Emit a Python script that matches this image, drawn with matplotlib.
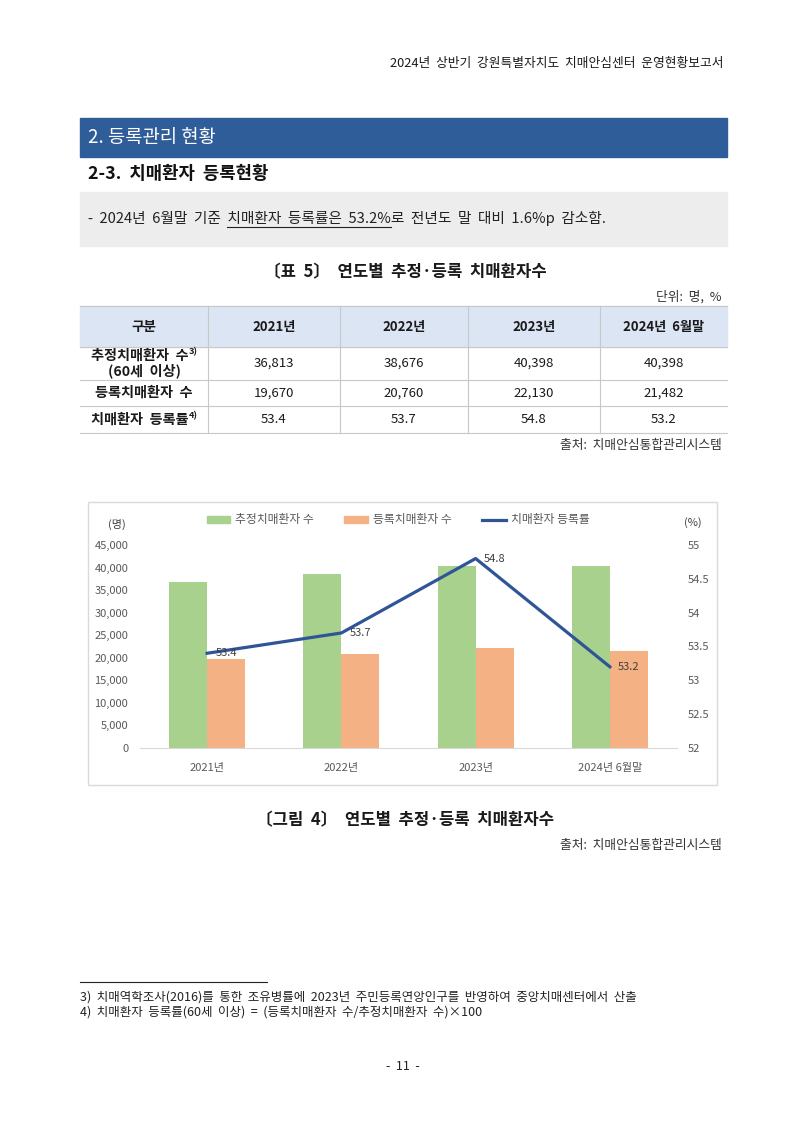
import matplotlib
matplotlib.use('Agg')
import matplotlib.pyplot as plt
from matplotlib.patches import Rectangle, Patch
from matplotlib.lines import Line2D
import numpy as np

plt.rcParams['font.family'] = ['Noto Sans CJK KR', 'DejaVu Sans']

# data
years = ['2021년', '2022년', '2023년', '2024년 6월말']
estimated = [36813, 38676, 40398, 40398]
registered = [19670, 20760, 22130, 21482]
reg_rate = [53.4, 53.7, 54.8, 53.2]
series_names = ['추정치매환자 수', '등록치매환자 수', '치매환자 등록률']
left_ticks = list(range(0, 45001, 5000))
right_ticks = [52, 52.5, 53, 53.5, 54, 54.5, 55]

W, H = 800, 1131
fig = plt.figure(figsize=(8, 11.31), dpi=100)
page = fig.add_axes([0, 0, 1, 1])
page.set_xlim(0, W)
page.set_ylim(H, 0)
page.axis('off')
renderer = fig.canvas.get_renderer()


def sp(s):
    # hangul documents use wider word spacing
    return s.replace(' ', '  ')


def txt(x, y, s, size, ha='left', weight='normal', color='#1a1a1a'):
    return page.text(x, y, s, fontsize=size, ha=ha, va='center',
                     fontweight=weight, color=color)


def width_of(s, size, weight='normal'):
    t = page.text(0, 0, s, fontsize=size, fontweight=weight)
    w = t.get_window_extent(renderer).width
    t.remove()
    return w


def label_with_sup(xc, y, main, sup, size):
    # bold label + small superscript, centred on xc
    w1 = width_of(main, size, 'bold')
    w2 = width_of(sup, size * 0.65, 'bold')
    x0 = xc - (w1 + w2) / 2
    txt(x0, y, main, size, weight='bold')
    page.text(x0 + w1 + 0.5, y - 4, sup, fontsize=size * 0.65, ha='left',
              va='center', fontweight='bold', color='#1a1a1a')


# page header
txt(723, 63, sp('2024년 상반기 강원특별자치도 치매안심센터 운영현황보고서'), 9.2, ha='right')

# section bar
page.add_patch(Rectangle((80, 118), 647, 39, color='#2F5D99'))
txt(88, 137, '2. 등록관리 현황', 13.5, color='white')
txt(88, 174, sp('2-3. 치매환자 등록현황'), 12.8, weight='bold', color='#111111')

# summary box
page.add_patch(Rectangle((80, 192), 647, 54, color='#EDEDED'))
prefix = sp('- 2024년 6월말 기준 ')
under = sp('치매환자 등록률은 53.2%')
rest = sp('로 전년도 말 대비 1.6%p 감소함.')
txt(88, 218, prefix + under + rest, 10.6, color='#222222')
u_end = 88 + width_of(prefix + under, 10.6)
u_start = u_end - width_of(under, 10.6)
page.plot([u_start, u_end], [227, 227], color='#222222', lw=0.8)

# table
txt(405, 272, sp('〔표 5〕 연도별 추정·등록 치매환자수'), 12, ha='center', weight='bold')
txt(722, 297, sp('단위: 명, %'), 9.2, ha='right', color='#333333')
col_edges = [80, 208, 340, 468, 600, 727]
row_edges = [306, 347, 380, 406, 433]
page.add_patch(Rectangle((80, 306), 647, 41, color='#DCE5F4'))
for y in row_edges:
    page.plot([80, 727], [y, y], color='#C8C8C8', lw=0.8)
for x in col_edges[1:-1]:
    page.plot([x, x], [306, 433], color='#C8C8C8', lw=0.8)
col_c = [(col_edges[i] + col_edges[i + 1]) / 2 for i in range(5)]
row_c = [(row_edges[i] + row_edges[i + 1]) / 2 for i in range(4)]

txt(col_c[0], row_c[0], '구분', 9.8, ha='center', weight='bold')
for i, yr in enumerate(years):
    txt(col_c[i + 1], row_c[0], sp(yr), 9.5, ha='center', weight='bold')
label_with_sup(col_c[0], 356, sp('추정치매환자 수'), '3)', 10.2)
txt(col_c[0], 371, sp('(60세 이상)'), 10.2, ha='center', weight='bold')
txt(col_c[0], row_c[2], sp('등록치매환자 수'), 10.2, ha='center', weight='bold')
label_with_sup(col_c[0], row_c[3], sp('치매환자 등록률'), '4)', 10.2)
for i in range(4):
    txt(col_c[i + 1], row_c[1], f'{estimated[i]:,}', 9.5, ha='center')
    txt(col_c[i + 1], row_c[2], f'{registered[i]:,}', 9.5, ha='center')
    txt(col_c[i + 1], row_c[3], f'{reg_rate[i]}', 9.5, ha='center')
txt(722, 446, sp('출처: 치매안심통합관리시스템'), 9.2, ha='right', color='#333333')

# chart frame
page.add_patch(Rectangle((88, 502), 629, 283, fill=False, edgecolor='#D9D9D9', lw=1))
txt(117, 524, '(명)', 8, ha='center', color='#404040')
txt(693, 523, '(%)', 8, ha='center', color='#404040')


def frac(x0, y0, x1, y1):
    return [x0 / W, 1 - y1 / H, (x1 - x0) / W, (y1 - y0) / H]


ax = fig.add_axes(frac(140, 545, 677, 748))
ax.patch.set_alpha(0)
x = np.arange(len(years))
bw = 0.283
ax.bar(x - bw / 2, estimated, bw, color='#A9D18E')
ax.bar(x + bw / 2, registered, bw, color='#F4B183')
ax.set_xlim(-0.5, 3.5)
ax.set_ylim(0, 45000)
ax.set_yticks(left_ticks)
ax.set_yticklabels([f'{v:,}' for v in left_ticks])
ax.set_xticks(x)
ax.set_xticklabels(years)
for s in ['top', 'left', 'right']:
    ax.spines[s].set_visible(False)
ax.spines['bottom'].set_color('#D9D9D9')
ax.tick_params(axis='y', length=0, pad=8.5, labelsize=8, labelcolor='#595959')
ax.tick_params(axis='x', length=0, pad=10.5, labelsize=8, labelcolor='#595959')

ax2 = ax.twinx()
ax2.plot(x, reg_rate, color='#2F5597', lw=2.3)
ax2.set_ylim(52, 55)
ax2.set_yticks(right_ticks)
ax2.set_yticklabels([f'{v:g}' for v in right_ticks])
for s in ['top', 'left', 'right', 'bottom']:
    ax2.spines[s].set_visible(False)
ax2.tick_params(axis='y', length=0, pad=8, labelsize=8, labelcolor='#595959')
for xi, v in zip(x, reg_rate):
    ax2.annotate(f'{v}', (xi, v), xytext=(6, 0), textcoords='offset points',
                 ha='left', va='center', fontsize=8, color='#404040')

handles = [Patch(color='#A9D18E'), Patch(color='#F4B183'),
           Line2D([], [], color='#2F5597', lw=2.3)]
fig.legend(handles, series_names, loc='center', bbox_to_anchor=(398 / W, 1 - 520 / H),
           ncol=3, frameon=False, fontsize=8.5, labelcolor='#595959',
           handlelength=2.0, handleheight=0.6, handletextpad=0.4, columnspacing=2.6)

# figure caption
txt(405, 820, sp('〔그림 4〕 연도별 추정·등록 치매환자수'), 12, ha='center', weight='bold')
txt(722, 845, sp('출처: 치매안심통합관리시스템'), 9.2, ha='right', color='#333333')

# footnotes
page.plot([80, 267], [982, 982], color='#222222', lw=0.8)
txt(80, 997, sp('3) 치매역학조사(2016)를 통한 조유병률에 2023년 주민등록연앙인구를 반영하여 중앙치매센터에서 산출'), 9, color='#222222')
txt(80, 1012, sp('4) 치매환자 등록률(60세 이상) = (등록치매환자 수/추정치매환자 수)×100'), 9, color='#222222')
txt(403, 1066, sp('- 11 -'), 9, ha='center', color='#222222')

fig.savefig('out.png', dpi=100)
